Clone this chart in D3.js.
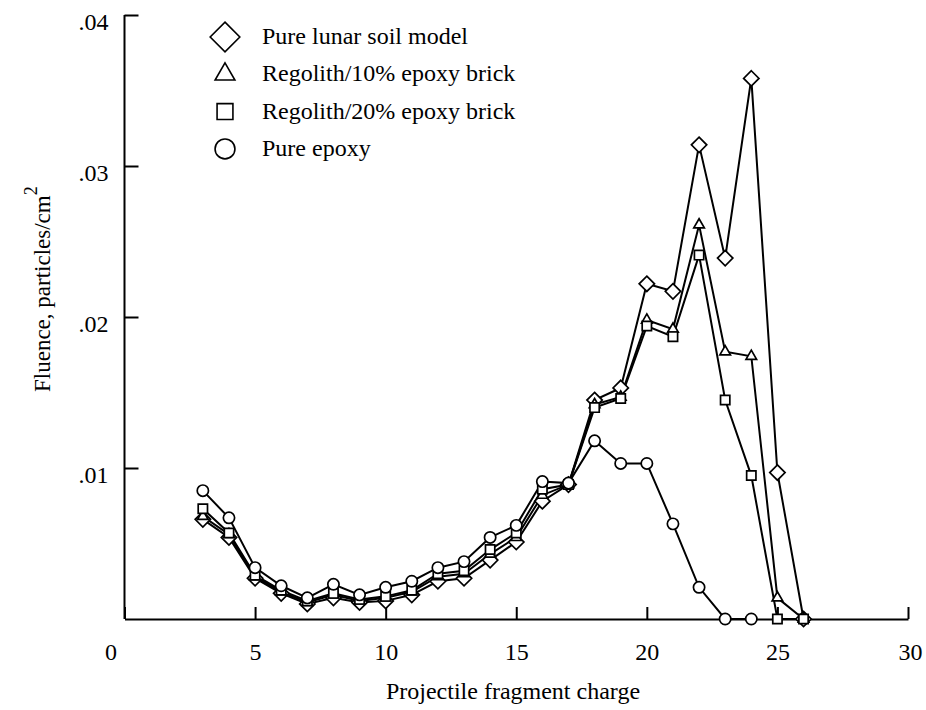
<!DOCTYPE html>
<html>
<head>
<meta charset="utf-8">
<script src="https://cdn.jsdelivr.net/npm/d3@7"></script>
<style>
  body { margin: 0; background: #fff; }
  svg { display: block; }
  text { font-family: "Liberation Serif", "Times New Roman", serif; fill: #000; }
</style>
</head>
<body>
<svg id="chart" width="926" height="710"></svg>
<script>
// ---- data ----
const charges = [3,4,5,6,7,8,9,10,11,12,13,14,15,16,17,18,19,20,21,22,23,24,25,26];
const lunarSoil = [0.0066,0.0054,0.0027,0.0017,0.0010,0.0014,0.0011,0.0012,0.0016,0.0025,0.0027,0.0039,0.0051,0.0078,0.0089,0.0145,0.0153,0.0222,0.0217,0.0314,0.0239,0.0358,0.0097,0.0];
const epoxy10 = [0.0068,0.0056,0.0028,0.0018,0.0011,0.0016,0.0012,0.0014,0.0018,0.0028,0.0030,0.0043,0.0054,0.0082,0.0089,0.0142,0.0147,0.0198,0.0192,0.0261,0.0177,0.0174,0.0014,0.0];
const epoxy20 = [0.0073,0.0057,0.0029,0.0019,0.0012,0.0017,0.0013,0.0015,0.0019,0.0030,0.0032,0.0046,0.0057,0.0086,0.0089,0.0140,0.0146,0.0194,0.0187,0.0241,0.0145,0.0095,0.0,0.0];
const epoxyCharges = [3,4,5,6,7,8,9,10,11,12,13,14,15,16,17,18,19,20,21,22,23,24];
const pureEpoxy = [0.0085,0.0067,0.0034,0.0022,0.0014,0.0023,0.0016,0.0021,0.0025,0.0034,0.0038,0.0054,0.0062,0.0091,0.0090,0.0118,0.0103,0.0103,0.0063,0.0021,0.0,0.0];
const seriesNames = ["Pure lunar soil model","Regolith/10% epoxy brick","Regolith/20% epoxy brick","Pure epoxy"];
const xTicks = [0,5,10,15,20,25,30];
const yTicks = [0.01,0.02,0.03,0.04];
const yTickLabels = [".01",".02",".03",".04"];

// ---- layout ----
const svg = d3.select("#chart");
const x = d3.scaleLinear().domain([0,30]).range([124.5,908]);
const y = d3.scaleLinear().domain([0,0.04]).range([619,15]);

const series = [
  {name: seriesNames[0], xs: charges, ys: lunarSoil, sym: d3.symbolDiamond2},
  {name: seriesNames[1], xs: charges, ys: epoxy10, sym: d3.symbolTriangle2},
  {name: seriesNames[2], xs: charges, ys: epoxy20, sym: d3.symbolSquare2},
  {name: seriesNames[3], xs: epoxyCharges, ys: pureEpoxy, sym: d3.symbolCircle}
];
const dataSize = {0: 150, 1: 80, 2: 110, 3: 100};
const legendSize = {0: 560, 1: 280, 2: 320, 3: 310};

// axes
const xAxis = d3.axisBottom(x).tickValues(xTicks).tickSizeInner(-12).tickSizeOuter(0).tickPadding(24)
  .tickFormat(d3.format("d"));
const gx = svg.append("g").attr("transform", `translate(0,${y(0)})`).call(xAxis);
gx.selectAll("text").style("font-size","24px").attr("dy","0.71em");
gx.selectAll("text").filter(d => d === 0).attr("x", -14);
gx.selectAll("text").filter(d => d === 30).attr("x", 2);

const yAxis = d3.axisLeft(y).tickValues(yTicks).tickSizeInner(-14).tickSizeOuter(0).tickPadding(16)
  .tickFormat((d,i) => yTickLabels[i]);
const gy = svg.append("g").attr("transform", `translate(${x(0)},0)`).call(yAxis);
gy.selectAll("text").style("font-size","24px").attr("dy","0.62em");
gy.select(".domain").attr("d", `M0,${y(0.04)}V${y(0)}`);

svg.selectAll(".domain, .tick line").attr("stroke","#000").attr("stroke-width",2);

// lines and markers
const line = d3.line().x(d => x(d[0])).y(d => y(d[1]));
series.forEach((s, i) => {
  const pts = s.xs.map((c, k) => [c, s.ys[k]]);
  svg.append("path").datum(pts).attr("d", line)
    .attr("fill","none").attr("stroke","#000").attr("stroke-width",2);
});
series.forEach((s, i) => {
  const pts = s.xs.map((c, k) => [c, s.ys[k]]);
  const sym = d3.symbol().type(s.sym).size(dataSize[i]);
  svg.append("g").selectAll("path").data(pts).join("path")
    .attr("d", sym)
    .attr("transform", d => `translate(${x(d[0])},${y(d[1])})`)
    .attr("fill","#fff").attr("stroke","#000").attr("stroke-width",1.7);
});

// legend
const lg = svg.append("g");
series.forEach((s, i) => {
  const cy = 37 + i * 37.3;
  lg.append("path").attr("d", d3.symbol().type(s.sym).size(legendSize[i])())
    .attr("transform", `translate(225,${cy})`)
    .attr("fill","#fff").attr("stroke","#000").attr("stroke-width",1.6);
  lg.append("text").attr("x", 262).attr("y", cy + 7).style("font-size","24px").text(s.name);
});

// axis titles
svg.append("text").attr("x", 513).attr("y", 699).attr("text-anchor","middle")
  .style("font-size","24px").text("Projectile fragment charge");
const yt = svg.append("text").attr("transform","translate(50,392) rotate(-90)")
  .style("font-size","23px");
yt.append("tspan").text("Fluence, particles/cm");
yt.append("tspan").attr("dy", -13).style("font-size","18px").text("2");
</script>
</body>
</html>
